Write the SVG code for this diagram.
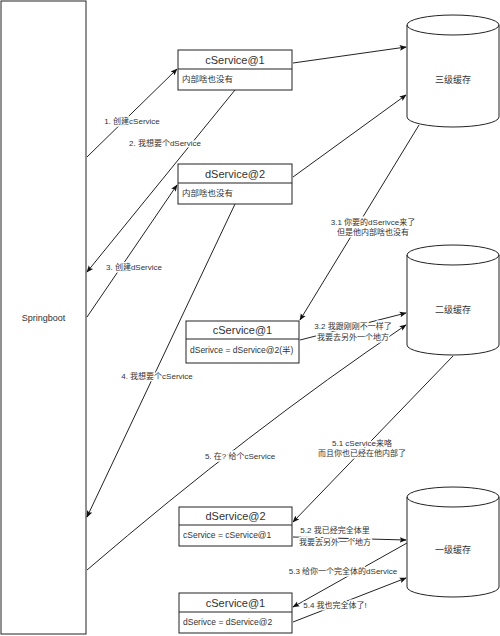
<svg xmlns="http://www.w3.org/2000/svg" width="500" height="636" viewBox="0 0 500 636">
<style>
  .box{fill:#fff;stroke:#222;stroke-width:1}
  .t{font-family:"Liberation Sans","Noto Sans CJK SC",sans-serif;fill:#333}
  .title{font-size:11px;text-anchor:middle;font-weight:normal}
  .body{font-size:8.5px}
  .lbl{font-size:8px;text-anchor:middle;paint-order:stroke;stroke:#fff;stroke-width:3px;stroke-linejoin:round}
  .cyl{font-size:9px;text-anchor:middle}
  .c{fill:none;stroke:#222;stroke-width:1;marker-end:url(#a)}
</style>
<defs>
  <marker id="a" viewBox="0 0 10 10" refX="9" refY="5" markerWidth="7" markerHeight="7" markerUnits="userSpaceOnUse" orient="auto">
    <path d="M0,1 L10,5 L0,9 L2,5 Z" fill="#111"/>
  </marker>
</defs>
<rect width="500" height="636" fill="#fff"/>

<g id="springboot">
  <rect class="box" x="1" y="1" width="85" height="633"/>
  <text class="t cyl" x="43.5" y="321">Springboot</text>
</g>

<g id="cService1">
  <rect class="box" x="178" y="50" width="114" height="40"/>
  <line x1="178" y1="69" x2="292" y2="69" stroke="#222"/>
  <text class="t title" x="235" y="64">cService@1</text>
  <text class="t body" x="182" y="82">内部啥也没有</text>
</g>

<g id="dService2">
  <rect class="box" x="178" y="164" width="114" height="40"/>
  <line x1="178" y1="183" x2="292" y2="183" stroke="#222"/>
  <text class="t title" x="235" y="178">dService@2</text>
  <text class="t body" x="182" y="196">内部啥也没有</text>
</g>

<g id="cService1b">
  <rect class="box" x="186" y="321" width="113" height="42"/>
  <line x1="186" y1="339" x2="299" y2="339" stroke="#222"/>
  <text class="t title" x="242.5" y="334">cService@1</text>
  <text class="t body" x="190" y="353">dSerivce = dService@2(半)</text>
</g>

<g id="dService2b">
  <rect class="box" x="179" y="507" width="113" height="39"/>
  <line x1="179" y1="525" x2="292" y2="525" stroke="#222"/>
  <text class="t title" x="235.5" y="520">dService@2</text>
  <text class="t body" x="183" y="538">cService = cService@1</text>
</g>

<g id="cService1c">
  <rect class="box" x="179" y="593" width="113" height="40"/>
  <line x1="179" y1="612" x2="292" y2="612" stroke="#222"/>
  <text class="t title" x="235.5" y="607">cService@1</text>
  <text class="t body" x="183" y="625">dSerivce = dService@2</text>
</g>

<g id="cache3">
  <path class="box" d="M407,25 A46,10 0 0 1 499,25 L499,117 A46,10 0 0 1 407,117 Z"/>
  <path d="M407,25 A46,10 0 0 0 499,25" fill="none" stroke="#222"/>
  <text class="t cyl" x="453" y="83">三级缓存</text>
</g>

<g id="cache2">
  <path class="box" d="M407,255 A46,10 0 0 1 499,255 L499,345 A46,10 0 0 1 407,345 Z"/>
  <path d="M407,255 A46,10 0 0 0 499,255" fill="none" stroke="#222"/>
  <text class="t cyl" x="453" y="313">二级缓存</text>
</g>

<g id="cache1">
  <path class="box" d="M407,497 A46,10 0 0 1 499,497 L499,587 A46,10 0 0 1 407,587 Z"/>
  <path d="M407,497 A46,10 0 0 0 499,497" fill="none" stroke="#222"/>
  <text class="t cyl" x="453" y="553">一级缓存</text>
</g>

<g id="connectors">
  <path class="c" d="M87,157 L177,69"/>
  <path class="c" d="M235,90 L87,272"/>
  <path class="c" d="M87,317 L177,185"/>
  <path class="c" d="M293,63 L406,47"/>
  <path class="c" d="M293,177 L406,95"/>
  <path class="c" d="M419,125 L300,320"/>
  <path class="c" d="M300,340 L406,313"/>
  <path class="c" d="M235,204 L87,517"/>
  <path class="c" d="M87,570 Q250,430 406,325"/>
  <path class="c" d="M453,356 L293,522"/>
  <path class="c" d="M293,537 L406,540"/>
  <path class="c" d="M407,543 L293,607"/>
  <path class="c" d="M293,622 L406,578"/>

  <text class="t lbl" x="132" y="124">1. 创建cService</text>
  <text class="t lbl" x="165" y="146">2. 我想要个dService</text>
  <text class="t lbl" x="134" y="270">3. 创建dService</text>
  <text class="t lbl" x="373" y="225">3.1 你要的dSerivce来了</text>
  <text class="t lbl" x="373" y="235">但是他内部啥也没有</text>
  <text class="t lbl" x="353" y="329">3.2 我跟刚刚不一样了</text>
  <text class="t lbl" x="353" y="340">我要去另外一个地方</text>
  <text class="t lbl" x="157" y="379">4. 我想要个cService</text>
  <text class="t lbl" x="240" y="459">5. 在? 给个cService</text>
  <text class="t lbl" x="362" y="446">5.1 cService来咯</text>
  <text class="t lbl" x="362" y="456">而且你也已经在他内部了</text>
  <text class="t lbl" x="335" y="533">5.2 我已经完全体里</text>
  <text class="t lbl" x="335" y="545">我要去另外一个地方</text>
  <text class="t lbl" x="343" y="574">5.3 给你一个完全体的dService</text>
  <text class="t lbl" x="335" y="608">5.4 我也完全体了!</text>
</g>
</svg>
